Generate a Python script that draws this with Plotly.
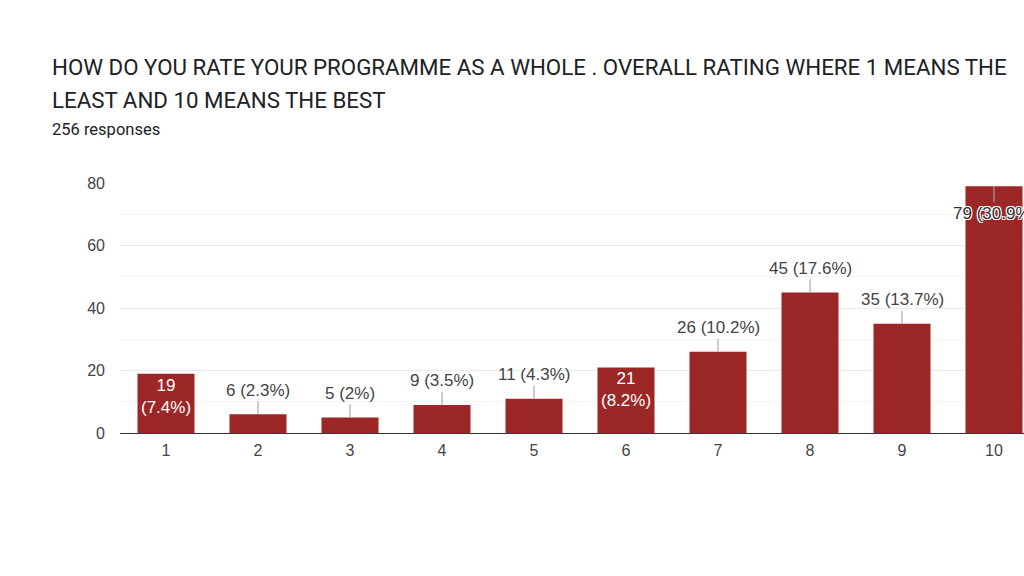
import plotly.graph_objects as go

# ratings and response counts
RATINGS = [1, 2, 3, 4, 5, 6, 7, 8, 9, 10]
COUNTS = [19, 6, 5, 9, 11, 21, 26, 45, 35, 79]
PCTS = ["7.4%", "2.3%", "2%", "3.5%", "4.3%", "8.2%", "10.2%", "17.6%", "13.7%", "30.9%"]
Y_TICKS = [0, 20, 40, 60, 80]
TITLE_1 = "HOW DO YOU RATE YOUR PROGRAMME AS A WHOLE . OVERALL RATING WHERE 1 MEANS THE"
TITLE_2 = "LEAST AND 10 MEANS THE BEST"
SUBTITLE = "256 responses"

W, H = 1024, 576
L, R, T, B = 120, 0, 183, 143
BAR = "#9b2727"
INSIDE = {1, 6}      # google put these labels inside the bar
BELOW = {10}         # no room above, label drawn under the bar top
LBL_FONT = "Liberation Sans, Arial"


def px(x):
    return (x - L) / (W - L - R)


def py(y):
    return (H - B - y) / (H - T - B)


fig = go.Figure(go.Bar(x=RATINGS, y=COUNTS, marker=dict(color=BAR, line=dict(width=0)),
                       width=0.62, hoverinfo="skip"))

ann = []
for r, c, p in zip(RATINGS, COUNTS, PCTS):
    if r in INSIDE:
        ann.append(dict(x=r, y=c, text="%d<br>(%s)" % (c, p), showarrow=False, yanchor="top", yshift=0,
                        font=dict(size=17, color="#ffffff", family=LBL_FONT)))
    elif r in BELOW:
        ann.append(dict(x=r, y=c, text="%d (%s)" % (c, p), showarrow=True, arrowhead=0, arrowwidth=1,
                        arrowcolor="#b0b0b0", ax=0, ay=27,
                        font=dict(size=17, color="#333333", family=LBL_FONT,
                                  shadow="-1px -1px 0 #fff, 1px -1px 0 #fff, -1px 1px 0 #fff, 1px 1px 0 #fff")))
    else:
        ann.append(dict(x=r, y=c, text="%d (%s)" % (c, p), showarrow=True, arrowhead=0, arrowwidth=1,
                        arrowcolor="#999999", ax=0, ay=-24,
                        font=dict(size=17, color="#444444", family=LBL_FONT)))

ann += [
    dict(xref="paper", yref="paper", x=px(50), y=py(67), text=TITLE_1, showarrow=False,
         xanchor="left", yanchor="middle", font=dict(size=22.3, color="#202124", family="Roboto")),
    dict(xref="paper", yref="paper", x=px(50), y=py(100), text=TITLE_2, showarrow=False,
         xanchor="left", yanchor="middle", font=dict(size=22.3, color="#202124", family="Roboto")),
    dict(xref="paper", yref="paper", x=px(50), y=py(129), text=SUBTITLE, showarrow=False,
         xanchor="left", yanchor="middle", font=dict(size=16.5, color="#202124", family="Roboto")),
]

fig.update_layout(
    width=W, height=H, margin=dict(l=L, r=R, t=T, b=B),
    paper_bgcolor="#ffffff", plot_bgcolor="#ffffff", showlegend=False,
    bargap=0.38, annotations=ann,
    xaxis=dict(range=[0.5, 0.5 + (W - L - R) / 92.0], tickvals=RATINGS, ticks="", showgrid=False,
               showline=False, zeroline=False, ticklabelstandoff=6,
               tickfont=dict(size=16, color="#444444", family=LBL_FONT)),
    yaxis=dict(range=[0, 80], tickvals=Y_TICKS, ticks="", showgrid=True, gridcolor="#ebebeb",
               zeroline=True, zerolinecolor="#333333", zerolinewidth=1, showline=False,
               ticklabelstandoff=14,
               minor=dict(dtick=10, showgrid=True, gridcolor="#f5f5f5"),
               tickfont=dict(size=16, color="#444444", family=LBL_FONT)),
)

# drop the default 8px body margin so the figure sits flush in the window
fig.write_html("out.html", config={"displayModeBar": False},
               post_script="document.body.style.margin='0';document.body.style.overflow='hidden';")
